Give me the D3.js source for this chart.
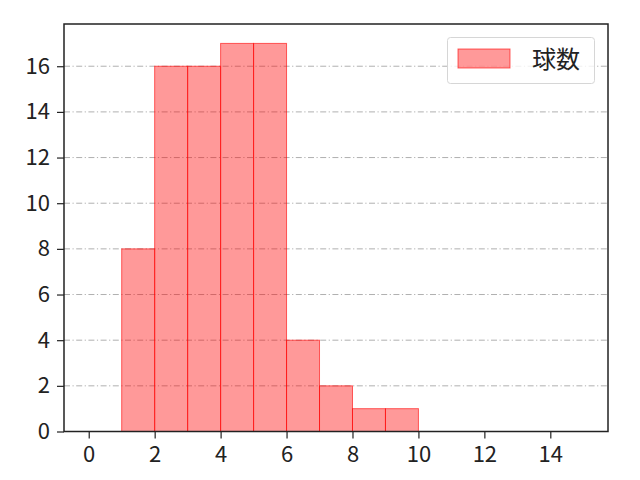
<!DOCTYPE html>
<html lang="ja">
<head>
<meta charset="UTF-8">
<title>球数</title>
<script src="https://d3js.org/d3.v7.min.js"></script>
<style>
  body { margin: 0; background: #fff; }
  text { font-family: "Noto Sans CJK JP", "DejaVu Sans", sans-serif; }
</style>
</head>
<body>
<svg width="640" height="480"></svg>
<script>
    // histogram bins (left edge) and counts
    const binStarts = [1, 2, 3, 4, 5, 6, 7, 8, 9];
    const counts = [8, 16, 16, 17, 17, 4, 2, 1, 1];
    const binWidth = 1;
    const xTicks = [0, 2, 4, 6, 8, 10, 12, 14];
    const yTicks = [0, 2, 4, 6, 8, 10, 12, 14, 16];
    const seriesName = "球数";

    const svg = d3.select("svg");
    const plotLeft = 64, plotRight = 608, plotTop = 24, plotBottom = 431.5;

    const x = d3.scaleLinear().domain([-0.75, 15.75]).range([plotLeft, plotRight]);
    const y = d3.scaleLinear().domain([0, 17.85]).range([plotBottom, plotTop]);

    // grid
    svg.append("g")
        .selectAll("line")
        .data(yTicks)
        .enter()
        .append("line")
        .attr("x1", plotLeft).attr("x2", plotRight)
        .attr("y1", d => y(d)).attr("y2", d => y(d))
        .attr("stroke", "#b0b0b0")
        .attr("stroke-width", 1)
        .attr("stroke-dasharray", "6,2.5,1.2,2.5");

    // bars
    svg.append("g")
        .selectAll("rect")
        .data(binStarts)
        .enter()
        .append("rect")
        .attr("x", d => x(d))
        .attr("width", d => x(d + binWidth) - x(d))
        .attr("y", (d, i) => y(counts[i]))
        .attr("height", (d, i) => y(0) - y(counts[i]))
        .attr("fill", "rgba(255,0,0,0.4)")
        .attr("stroke", "rgba(255,0,0,0.6)")
        .attr("stroke-width", 1);

    // axes
    const xAxis = svg.append("g")
        .attr("transform", `translate(0,${plotBottom})`)
        .call(d3.axisBottom(x).tickValues(xTicks).tickSize(7).tickPadding(8).tickFormat(d3.format("d")));
    const yAxis = svg.append("g")
        .attr("transform", `translate(${plotLeft},0)`)
        .call(d3.axisLeft(y).tickValues(yTicks).tickSize(7).tickPadding(7).tickFormat(d3.format("d")));

    [xAxis, yAxis].forEach(g => {
        g.select(".domain").remove();
        g.attr("font-size", null).attr("font-family", null);
        g.selectAll(".tick line").attr("stroke", "#222").attr("stroke-width", 1.2);
        g.selectAll(".tick text")
            .attr("fill", "#222")
            .style("font-size", "22px");
    });

    // frame
    svg.append("rect")
        .attr("x", plotLeft).attr("y", plotTop)
        .attr("width", plotRight - plotLeft).attr("height", plotBottom - plotTop)
        .attr("fill", "none")
        .attr("stroke", "#222")
        .attr("stroke-width", 1.5);

    // legend
    const legend = svg.append("g");
    legend.append("rect")
        .attr("x", 447.5).attr("y", 37.5)
        .attr("width", 147).attr("height", 46)
        .attr("rx", 3)
        .attr("fill", "rgba(255,255,255,0.8)")
        .attr("stroke", "#d6d6d6")
        .attr("stroke-width", 1);
    legend.append("rect")
        .attr("x", 458).attr("y", 49)
        .attr("width", 52).attr("height", 19)
        .attr("fill", "rgba(255,0,0,0.4)")
        .attr("stroke", "rgba(255,0,0,0.6)");
    legend.append("text")
        .attr("x", 532).attr("y", 68)
        .attr("fill", "#222")
        .style("font-size", "24px")
        .text(seriesName);
</script>
</body>
</html>
